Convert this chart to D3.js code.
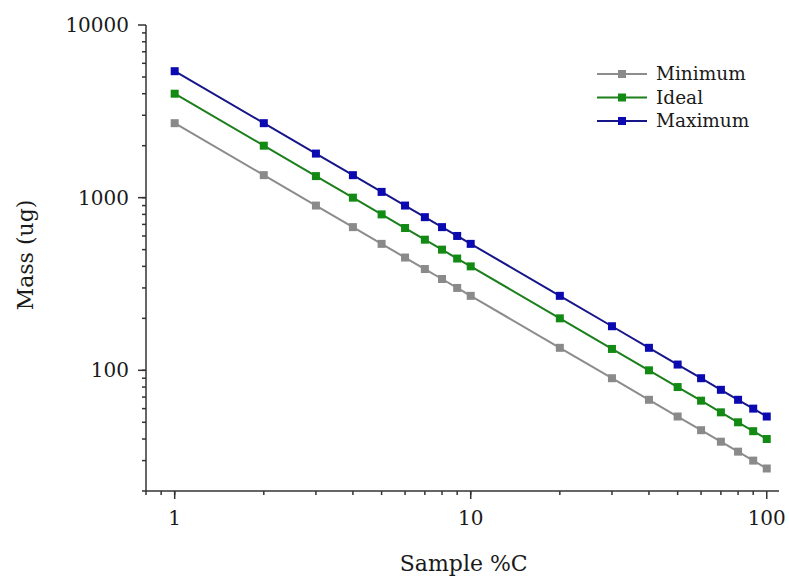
<!DOCTYPE html>
<html>
<head>
<meta charset="utf-8">
<script src="https://cdn.jsdelivr.net/npm/d3@7"></script>
<style>
  body { margin: 0; background: #fff; }
  text { font-family: "DejaVu Serif", serif; fill: #1a1a1a; }
</style>
</head>
<body>
<div id="chart"></div>
<script>
// Data
const samplePct = [1, 2, 3, 4, 5, 6, 7, 8, 9, 10, 20, 30, 40, 50, 60, 70, 80, 90, 100];
const minimumMass = [2700, 1350, 900, 675, 540, 450, 386, 338, 300, 270, 135, 90, 67.5, 54, 45, 38.6, 33.8, 30, 27];
const idealMass = [4000, 2000, 1333, 1000, 800, 667, 571, 500, 444, 400, 200, 133, 100, 80, 66.7, 57.1, 50, 44.4, 40];
const maximumMass = [5400, 2700, 1800, 1350, 1080, 900, 771, 675, 600, 540, 270, 180, 135, 108, 90, 77.1, 67.5, 60, 54];
const seriesNames = ['Minimum', 'Ideal', 'Maximum'];
const xTickLabels = [1, 10, 100];
const yTickLabels = [100, 1000, 10000];

const series = [
    { name: seriesNames[0], values: minimumMass, line: '#8c8c8c', fill: '#8a8a8a' },
    { name: seriesNames[1], values: idealMass, line: '#1b7f1b', fill: '#138a13' },
    { name: seriesNames[2], values: maximumMass, line: '#16168a', fill: '#0a0ab0' }
];

const width = 789, height = 580;
const margin = { top: 25, right: 10, bottom: 89, left: 146 };
const innerW = width - margin.left - margin.right;
const innerH = height - margin.top - margin.bottom;

const svg = d3.select('#chart').append('svg')
    .attr('width', width)
    .attr('height', height);

const chart = svg.append('g')
    .attr('transform', `translate(${margin.left},${margin.top})`);

const xScale = d3.scaleLog().domain([0.8, 110]).range([0, innerW]);
const yScale = d3.scaleLog().domain([20, 10000]).range([innerH, 0]);

// minor ticks
const xMinor = [];
[0.1, 1, 10].forEach(d => { for (let k = 1; k <= 9; k++) { const v = d * k; if (v >= 0.8 && v <= 110) xMinor.push(v); } });
const yMinor = [];
[10, 100, 1000].forEach(d => { for (let k = 1; k <= 9; k++) { const v = d * k; if (v >= 20 && v <= 10000) yMinor.push(v); } });

const axisColor = '#333';

// x axis
const xAxisG = chart.append('g').attr('transform', `translate(0,${innerH})`);
xAxisG.append('line').attr('x1', 0).attr('x2', innerW).attr('stroke', axisColor).attr('stroke-width', 1.5);
xAxisG.selectAll('.minor').data(xMinor).join('line')
    .attr('x1', d => xScale(d)).attr('x2', d => xScale(d))
    .attr('y1', 0).attr('y2', 4)
    .attr('stroke', axisColor).attr('stroke-width', 1.5);
xAxisG.selectAll('.major').data(xTickLabels).join('line')
    .attr('x1', d => xScale(d)).attr('x2', d => xScale(d))
    .attr('y1', 0).attr('y2', 8)
    .attr('stroke', axisColor).attr('stroke-width', 1.5);
xAxisG.selectAll('.lbl').data(xTickLabels).join('text')
    .attr('x', d => xScale(d)).attr('y', 34)
    .attr('text-anchor', 'middle')
    .style('font-size', '20px')
    .text(d => d);

// y axis
const yAxisG = chart.append('g');
yAxisG.append('line').attr('y1', 0).attr('y2', innerH).attr('stroke', axisColor).attr('stroke-width', 1.5);
yAxisG.selectAll('.minor').data(yMinor).join('line')
    .attr('y1', d => yScale(d)).attr('y2', d => yScale(d))
    .attr('x1', 0).attr('x2', -4)
    .attr('stroke', axisColor).attr('stroke-width', 1.5);
yAxisG.selectAll('.major').data(yTickLabels).join('line')
    .attr('y1', d => yScale(d)).attr('y2', d => yScale(d))
    .attr('x1', 0).attr('x2', -8)
    .attr('stroke', axisColor).attr('stroke-width', 1.5);
yAxisG.selectAll('.lbl').data(yTickLabels).join('text')
    .attr('x', -17).attr('y', d => yScale(d))
    .attr('dy', '0.35em')
    .attr('text-anchor', 'end')
    .style('font-size', '20px')
    .text(d => d);

// axis titles
svg.append('text')
    .attr('x', margin.left + xScale(10) - 7).attr('y', 571)
    .attr('text-anchor', 'middle')
    .style('font-size', '22px')
    .text('Sample %C');

svg.append('text')
    .attr('transform', `translate(33,255) rotate(-90)`)
    .attr('text-anchor', 'middle')
    .style('font-size', '22px')
    .text('Mass (ug)');

// lines + markers
const line = d3.line()
    .x((d, i) => xScale(samplePct[i]))
    .y(d => yScale(d));

series.forEach(s => {
    chart.append('path')
        .datum(s.values)
        .attr('fill', 'none')
        .attr('stroke', s.line)
        .attr('stroke-width', 2)
        .attr('d', line);
    chart.selectAll(null).data(s.values).join('rect')
        .attr('x', (d, i) => xScale(samplePct[i]) - 4)
        .attr('y', d => yScale(d) - 4)
        .attr('width', 8).attr('height', 8)
        .attr('fill', s.fill);
});

// legend
const legend = svg.append('g').attr('transform', 'translate(597,74)');
series.forEach((s, i) => {
    const g = legend.append('g').attr('transform', `translate(0,${i * 23.5})`);
    g.append('line').attr('x1', 0).attr('x2', 50).attr('stroke', s.line).attr('stroke-width', 2);
    g.append('rect').attr('x', 21).attr('y', -4).attr('width', 8).attr('height', 8).attr('fill', s.fill);
    g.append('text').attr('x', 59).attr('y', 0).attr('dy', '0.35em')
        .style('font-size', '18.5px')
        .text(s.name);
});
</script>
</body>
</html>
